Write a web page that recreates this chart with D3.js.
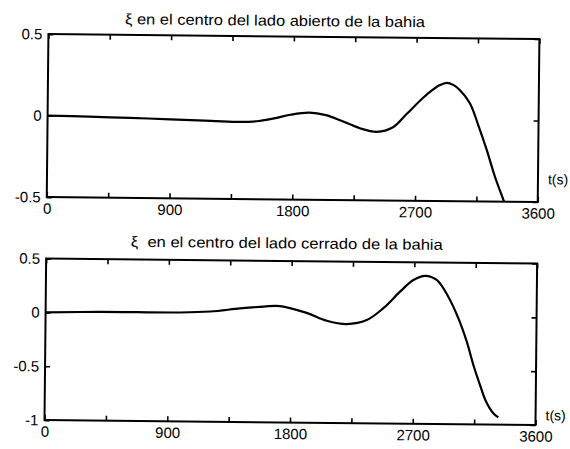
<!DOCTYPE html>
<html>
<head>
<meta charset="utf-8">
<script src="https://cdn.jsdelivr.net/npm/d3@7"></script>
<style>
  html, body { margin: 0; padding: 0; background: #fff; }
  svg { display: block; }
</style>
</head>
<body>
<svg id="chart" width="570" height="449"></svg>
<script>
// Surface elevation at the open side of the bay: time (s) and elevation
const openTime = [0, 300, 600, 900, 1200, 1420, 1550, 1660, 1780, 1920, 2040, 2150, 2290, 2414, 2533, 2630, 2750, 2820, 2870, 2924, 2975, 3020, 3095, 3158, 3222, 3285, 3348, 3370];
const openElev = [0, -0.004, -0.009, -0.015, -0.022, -0.027, -0.02, -0.003, 0.02, 0.034, 0.02, -0.012, -0.058, -0.079, -0.05, 0.03, 0.131, 0.181, 0.21, 0.226, 0.212, 0.183, 0.102, -0.031, -0.183, -0.349, -0.489, -0.54];

// Surface elevation at the closed side of the bay
const closedTime = [0, 400, 985, 1207, 1425, 1600, 1718, 1914, 2062, 2208, 2355, 2476, 2597, 2694, 2783, 2865, 2951, 3027, 3090, 3140, 3190, 3233, 3290, 3327];
const closedElev = [0, 0.01, 0.012, 0.024, 0.055, 0.075, 0.081, 0.02, -0.051, -0.08, -0.041, 0.071, 0.226, 0.335, 0.376, 0.338, 0.184, -0.016, -0.232, -0.448, -0.632, -0.779, -0.895, -0.933];

// Axis ticks
const timeTicks = [0, 450, 900, 1350, 1800, 2250, 2700, 3150, 3600];
const timeLabelStep = 900;
const openYTicks = [-0.5, 0, 0.5];
const closedYTicks = [-1, -0.5, 0, 0.5];

// Texts
const openTitle = "ξ en el centro del lado abierto de la bahia";
const closedTitle = "ξ  en el centro del lado cerrado de la bahia";
const timeUnit = "t(s)";

const FONT = "'Liberation Sans', Arial, Helvetica, sans-serif";

const panels = [
  { time: openTime, elev: openElev, yTicks: openYTicks, yDomain: [-0.5, 0.5],
    title: openTitle, top: 36.5, bottom: 199.5,
    titleX: 123, titleY: 25.8, titleLen: 300, unitY: 181.5 },
  { time: closedTime, elev: closedElev, yTicks: closedYTicks, yDomain: [-1, 0.5],
    title: closedTitle, top: 261, bottom: 422.5,
    titleX: 131, titleY: 248.3, titleLen: 312, unitY: 417.5 }
];

const left = 46.5, right = 537.5;

const svg = d3.select("#chart");
// the printed figure sits slightly tilted on the page
const root = svg.append("g").attr("transform", "rotate(0.58,285,225)");

const x = d3.scaleLinear().domain([0, 3600]).range([left, right]);

panels.forEach((p, i) => {
  const y = d3.scaleLinear().domain(p.yDomain).range([p.bottom, p.top]);
  const g = root.append("g");

  const clipId = "clip" + i;
  g.append("clipPath").attr("id", clipId)
    .append("rect")
    .attr("x", left).attr("y", p.top)
    .attr("width", right - left).attr("height", p.bottom - p.top);

  // curve
  const pts = p.time.map((t, k) => [t, p.elev[k]]);
  const line = d3.line()
    .x(d => x(d[0]))
    .y(d => y(d[1]))
    .curve(d3.curveCatmullRom.alpha(0.5));
  g.append("path")
    .datum(pts)
    .attr("clip-path", `url(#${clipId})`)
    .attr("fill", "none")
    .attr("stroke", "#000")
    .attr("stroke-width", 2.2)
    .attr("stroke-linejoin", "round")
    .attr("d", line);

  const fmtX = d => (d % timeLabelStep === 0 ? String(d) : "");
  const fmtY = d => String(d);

  const styleAxis = sel => {
    sel.select(".domain").remove();
    sel.selectAll(".tick line").attr("stroke", "#000").attr("stroke-width", 1.6);
    sel.selectAll("text")
      .attr("fill", "#000")
      .attr("font-family", FONT)
      .attr("font-size", 15);
    sel.attr("font-family", null).attr("font-size", null);
  };

  // bottom axis with labels
  g.append("g")
    .attr("transform", `translate(0,${p.bottom})`)
    .call(d3.axisBottom(x).tickValues(timeTicks).tickFormat(fmtX)
      .tickSizeInner(-5).tickSizeOuter(0).tickPadding(6))
    .call(styleAxis);

  // top axis, ticks only
  g.append("g")
    .attr("transform", `translate(0,${p.top})`)
    .call(d3.axisTop(x).tickValues(timeTicks).tickFormat(() => "")
      .tickSizeInner(-5).tickSizeOuter(0))
    .call(styleAxis);

  // left axis with labels
  g.append("g")
    .attr("transform", `translate(${left},0)`)
    .call(d3.axisLeft(y).tickValues(p.yTicks).tickFormat(fmtY)
      .tickSizeInner(-5).tickSizeOuter(0).tickPadding(6))
    .call(styleAxis);

  // right axis, ticks only
  g.append("g")
    .attr("transform", `translate(${right},0)`)
    .call(d3.axisRight(y).tickValues(p.yTicks).tickFormat(() => "")
      .tickSizeInner(-5).tickSizeOuter(0))
    .call(styleAxis);

  // frame
  g.append("rect")
    .attr("x", left).attr("y", p.top)
    .attr("width", right - left).attr("height", p.bottom - p.top)
    .attr("fill", "none")
    .attr("stroke", "#000")
    .attr("stroke-width", 2);

  // title
  g.append("text")
    .attr("x", p.titleX).attr("y", p.titleY)
    .attr("font-family", FONT)
    .attr("font-size", 15)
    .attr("textLength", p.titleLen)
    .attr("lengthAdjust", "spacingAndGlyphs")
    .attr("xml:space", "preserve")
    .style("white-space", "pre")
    .attr("fill", "#000")
    .text(p.title);

  // time unit label
  g.append("text")
    .attr("x", 547.5).attr("y", p.unitY)
    .attr("font-family", FONT)
    .attr("font-size", 14)
    .attr("fill", "#000")
    .text(timeUnit);
});
</script>
</body>
</html>
